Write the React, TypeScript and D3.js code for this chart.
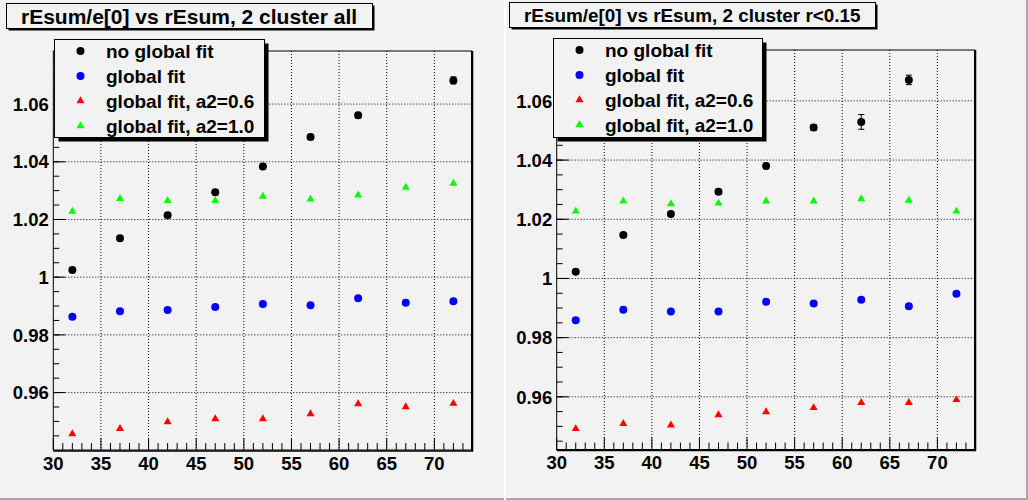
import React from 'react';
import * as d3 from 'd3';

// ---------- data ----------
const xCats = [32, 37, 42, 47, 52, 57, 62, 67, 72];

const leftNoGlobalX = [32, 37, 42, 47, 52, 57, 62, 72];
const leftNoGlobal = [1.0025, 1.0135, 1.0215, 1.0294, 1.0384, 1.0486, 1.0561, 1.0682];
const leftNoGlobalErr = [0.0006, 0.0007, 0.0007, 0.0008, 0.0009, 0.0009, 0.001, 0.0012];
const leftGlobal = [0.9863, 0.9882, 0.9886, 0.9897, 0.9907, 0.9903, 0.9927, 0.9911, 0.9917];
const leftA06 = [0.9457, 0.9475, 0.9498, 0.9509, 0.9509, 0.9526, 0.9561, 0.955, 0.9562];
const leftA10 = [1.0228, 1.0272, 1.0265, 1.0265, 1.028, 1.027, 1.0284, 1.0311, 1.0325];

const rightNoGlobalX = [32, 37, 42, 47, 52, 57, 62, 67];
const rightNoGlobal = [1.0023, 1.0147, 1.0218, 1.0293, 1.038, 1.051, 1.0529, 1.0671];
const rightNoGlobalErr = [0.0006, 0.0007, 0.0007, 0.0008, 0.0009, 0.001, 0.0025, 0.0016];
const rightGlobal = [0.9859, 0.9894, 0.9888, 0.9888, 0.9921, 0.9915, 0.9928, 0.9906, 0.9948];
const rightA06 = [0.9492, 0.9509, 0.9504, 0.9539, 0.9549, 0.9563, 0.958, 0.958, 0.959];
const rightA10 = [1.0227, 1.0261, 1.0252, 1.0254, 1.0261, 1.0261, 1.0269, 1.0264, 1.0227];

const legendLabels = ['no global fit', 'global fit', 'global fit, a2=0.6', 'global fit, a2=1.0'];
const seriesColors = ['#000000', '#0000ff', '#ff0000', '#00ff00'];
const seriesShapes = ['circle', 'circle', 'triangle', 'triangle'];

const xTicksMajor = [30, 35, 40, 45, 50, 55, 60, 65, 70];
const yTicksMajor = [0.96, 0.98, 1.0, 1.02, 1.04, 1.06];
const yTickLabels = ['0.96', '0.98', '1', '1.02', '1.04', '1.06'];

const FONT = '"Liberation Sans", Arial, Helvetica, sans-serif';
const BG = '#f2f2f2';

type PanelCfg = {
  title: string;
  titleSize: number;
  padX: number;
  padW: number;
  frame: { l: number; r: number; t: number; b: number };
  yDomain: [number, number];
  titleBox: { x: number; y: number; w: number; h: number };
  legendBox: { x: number; y: number; w: number; h: number };
  noGX: number[];
  noG: number[];
  noGErr: number[];
  glob: number[];
  a06: number[];
  a10: number[];
};

const Marker = ({ shape, x, y, color }: { shape: string; x: number; y: number; color: string }) => {
  if (shape === 'circle') return <circle cx={x} cy={y} r={4} fill={color} />;
  const sym = d3.symbol().type(d3.symbolTriangle).size(28)();
  return <path d={sym as string} transform={`translate(${x},${y})`} fill={color} />;
};

const Panel = ({ cfg }: { cfg: PanelCfg }) => {
  const { frame } = cfg;
  const xs = d3.scaleLinear().domain([30, 73.9]).range([frame.l, frame.r]);
  const ys = d3.scaleLinear().domain(cfg.yDomain).range([frame.b, frame.t]);
  const xMinor = d3.range(30, 74, 1).filter((v) => v % 5 !== 0);
  const yMinor = d3.range(0.94, 1.0801, 0.005).filter((v) => ys(v) > frame.t && ys(v) < frame.b);
  const series = [
    { xs: cfg.noGX, ys: cfg.noG, err: cfg.noGErr },
    { xs: xCats, ys: cfg.glob, err: null },
    { xs: xCats, ys: cfg.a06, err: null },
    { xs: xCats, ys: cfg.a10, err: null },
  ];
  const tb = cfg.titleBox;
  const lb = cfg.legendBox;
  return (
    <g>
      <rect x={cfg.padX} y={0} width={cfg.padW} height={500} fill={BG} />
      {/* grid */}
      {xTicksMajor.filter((v) => v > 30).map((v) => (
        <line key={'gx' + v} x1={xs(v)} x2={xs(v)} y1={frame.t} y2={frame.b} stroke="#000" strokeWidth={1} strokeDasharray="1,2" />
      ))}
      {yTicksMajor.map((v) => (
        <line key={'gy' + v} x1={frame.l} x2={frame.r} y1={ys(v)} y2={ys(v)} stroke="#000" strokeWidth={1} strokeDasharray="1,2" />
      ))}
      {/* ticks */}
      {xTicksMajor.map((v) => (
        <line key={'tx' + v} x1={xs(v)} x2={xs(v)} y1={frame.b} y2={frame.b - 12} stroke="#000" strokeWidth={1} />
      ))}
      {xMinor.map((v) => (
        <line key={'tmx' + v} x1={xs(v)} x2={xs(v)} y1={frame.b} y2={frame.b - 7} stroke="#000" strokeWidth={1} />
      ))}
      {yTicksMajor.map((v) => (
        <line key={'ty' + v} x1={frame.l} x2={frame.l + 12} y1={ys(v)} y2={ys(v)} stroke="#000" strokeWidth={1} />
      ))}
      {yMinor.map((v, i) => (
        <line key={'tmy' + i} x1={frame.l} x2={frame.l + 6} y1={ys(v)} y2={ys(v)} stroke="#000" strokeWidth={1} />
      ))}
      {/* frame */}
      <rect x={frame.l} y={frame.t} width={frame.r - frame.l} height={frame.b - frame.t} fill="none" stroke="#000" strokeWidth={1} />
      <line x1={frame.r + 1} x2={frame.r + 1} y1={frame.t} y2={frame.b + 1.5} stroke="#000" strokeWidth={1.5} />
      <line x1={frame.l} x2={frame.r + 1.5} y1={frame.b + 1} y2={frame.b + 1} stroke="#000" strokeWidth={1.5} />
      {/* axis labels */}
      {xTicksMajor.map((v) => (
        <text key={'lx' + v} x={xs(v)} y={frame.b + 19.5} textAnchor="middle" fontFamily={FONT} fontWeight="bold" fontSize={18.5} fill="#000">
          {v}
        </text>
      ))}
      {yTicksMajor.map((v, i) => (
        <text key={'ly' + v} x={frame.l - 4.5} y={ys(v) + 6.7} textAnchor="end" fontFamily={FONT} fontWeight="bold" fontSize={18.5} fill="#000">
          {yTickLabels[i]}
        </text>
      ))}
      {/* data */}
      {series.map((s, si) => (
        <g key={'s' + si}>
          {s.xs.map((xv, i) => {
            const cx = xs(xv);
            const cy = ys(s.ys[i]);
            const e = s.err ? s.err[i] : 0;
            return (
              <g key={i}>
                {e > 0 && (
                  <g stroke={seriesColors[si]} strokeWidth={1}>
                    <line x1={cx} x2={cx} y1={ys(s.ys[i] - e)} y2={ys(s.ys[i] + e)} />
                    <line x1={cx - 3} x2={cx + 3} y1={ys(s.ys[i] - e)} y2={ys(s.ys[i] - e)} />
                    <line x1={cx - 3} x2={cx + 3} y1={ys(s.ys[i] + e)} y2={ys(s.ys[i] + e)} />
                  </g>
                )}
                <Marker shape={seriesShapes[si]} x={cx} y={cy} color={seriesColors[si]} />
              </g>
            );
          })}
        </g>
      ))}
      {/* title box */}
      <rect x={tb.x + 2} y={tb.y + 2} width={tb.w} height={tb.h} fill="#000" />
      <rect x={tb.x} y={tb.y} width={tb.w} height={tb.h} fill={BG} stroke="#000" strokeWidth={1} />
      <text x={tb.x + 14.5} y={tb.y + 13} dominantBaseline="central" fontFamily={FONT} fontWeight="bold" fontSize={cfg.titleSize} fill="#000">
        {cfg.title}
      </text>
      {/* legend */}
      <rect x={lb.x + 4} y={lb.y + 4} width={lb.w} height={lb.h} fill="#000" />
      <rect x={lb.x} y={lb.y} width={lb.w} height={lb.h} fill={BG} stroke="#000" strokeWidth={1} />
      {legendLabels.map((lab, i) => {
        const cy = lb.y + 11.5 + i * 25;
        return (
          <g key={'lg' + i}>
            <Marker shape={seriesShapes[i]} x={lb.x + 26} y={cy} color={seriesColors[i]} />
            <text x={lb.x + 51.5} y={cy + 6.8} fontFamily={FONT} fontWeight="bold" fontSize={19} fill="#000">
              {lab}
            </text>
          </g>
        );
      })}
    </g>
  );
};

const leftCfg: PanelCfg = {
  title: 'rEsum/e[0] vs rEsum, 2 cluster all',
  titleSize: 21,
  padX: 0,
  padW: 504,
  frame: { l: 53.3, r: 471.5, t: 51, b: 450 },
  yDomain: [0.9401, 1.0784],
  titleBox: { x: 6.5, y: 3.5, w: 366, h: 25 },
  legendBox: { x: 54.5, y: 39.5, w: 210, h: 98 },
  noGX: leftNoGlobalX,
  noG: leftNoGlobal,
  noGErr: leftNoGlobalErr,
  glob: leftGlobal,
  a06: leftA06,
  a10: leftA10,
};

const rightCfg: PanelCfg = {
  title: 'rEsum/e[0] vs rEsum, 2 cluster r<0.15',
  titleSize: 18.9,
  padX: 506,
  padW: 520,
  frame: { l: 556.7, r: 974.5, t: 50, b: 449.5 },
  yDomain: [0.9422, 1.0772],
  titleBox: { x: 509.5, y: 2.5, w: 366, h: 25 },
  legendBox: { x: 553.5, y: 38.5, w: 209, h: 99 },
  noGX: rightNoGlobalX,
  noG: rightNoGlobal,
  noGErr: rightNoGlobalErr,
  glob: rightGlobal,
  a06: rightA06,
  a10: rightA10,
};

export default function App() {
  return (
    <svg width={1028} height={500} style={{ position: 'absolute', left: 0, top: 0, display: 'block' }}>
      <rect x={0} y={0} width={1028} height={500} fill="#ffffff" />
      <Panel cfg={leftCfg} />
      <Panel cfg={rightCfg} />
      <rect x={0} y={498} width={504} height={2} fill="#a8a8a8" />
      <rect x={506} y={498} width={522} height={2} fill="#a8a8a8" />
      <rect x={1026} y={0} width={2} height={500} fill="#a8a8a8" />
    </svg>
  );
}
